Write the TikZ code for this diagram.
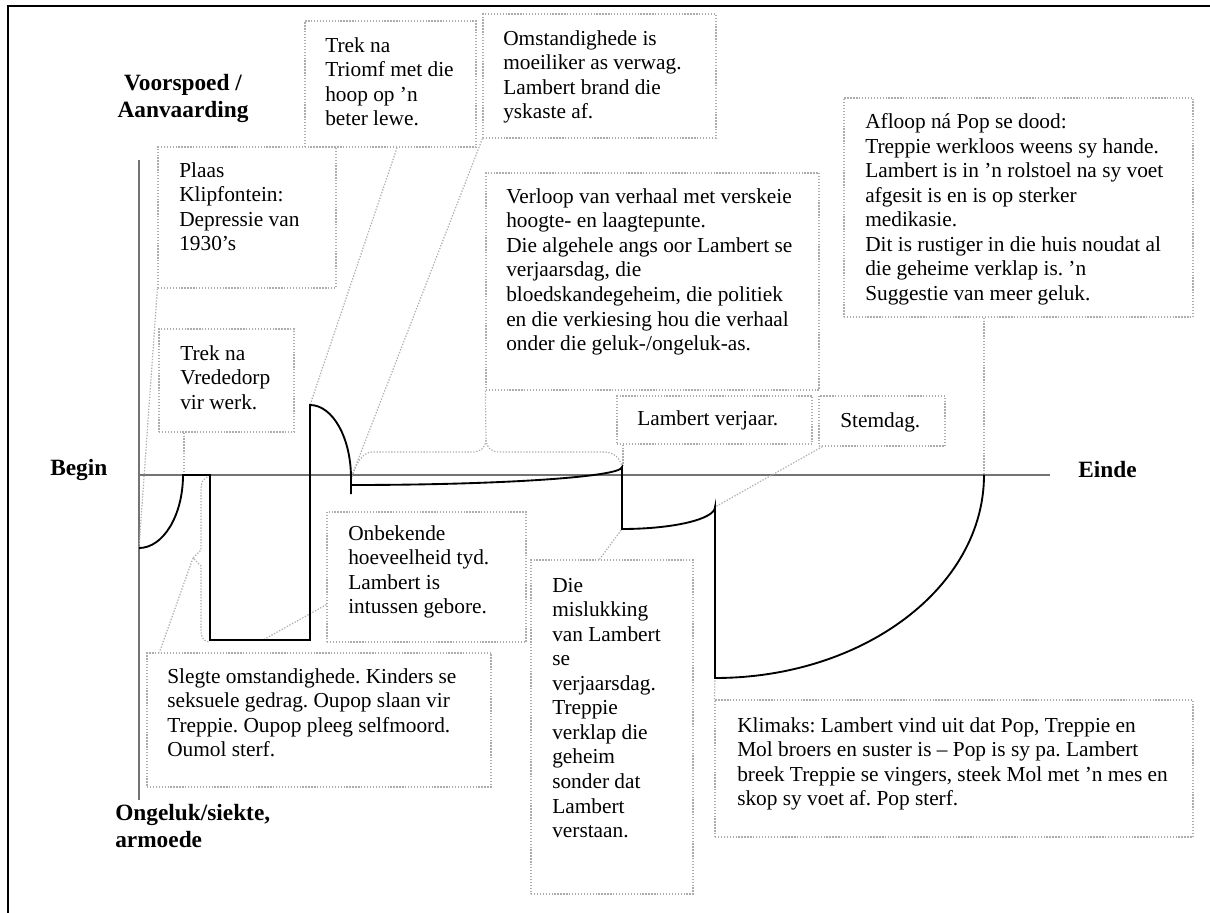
\documentclass[tikz,border=0pt]{standalone}
\usepackage{fontspec}
\setmainfont{Liberation Serif}
\usetikzlibrary{fit,calc}
\newcommand\myst{\rule{0pt}{11pt}}
\newcommand\mybst{\rule{0pt}{12pt}}
\frenchspacing
\begin{document}
\begin{tikzpicture}[x=0.75pt,y=-0.75pt,
  box/.style={draw=black!32, line width=0.9pt, dash pattern=on 1pt off 1.2pt, inner sep=0pt},
  link/.style={draw=black!32, line width=0.9pt, dash pattern=on 1pt off 1.2pt},
  txt/.style={anchor=north west, inner sep=0pt, align=left, font=\fontsize{16}{18.4}\selectfont},
  lbl/.style={inner sep=0pt, font=\fontsize{17.5}{20.5}\selectfont\bfseries},
  plotline/.style={line width=1.4pt, black},
  axisline/.style={line width=1.2pt, black!55}]
\useasboundingbox (0,0) rectangle (1210,913);
% frame (partly visible)
\draw[line width=1.5pt] (1210,6) -- (8,6) -- (8,913);

% axes
\coordinate (axT) at (139,160);
\coordinate (axB) at (139,800);
\coordinate (axO) at (139,475);
\coordinate (axR) at (1050,475);
\draw[axisline] (axT) -- (axB);
\draw[axisline] (axO) -- (axR);

% axis labels
\node[lbl, anchor=north, align=center] (lUp) at (183,74) {\mybst Voorspoed /\\Aanvaarding};
\node[lbl, anchor=north west] (lBegin) at (50,459) {\mybst Begin};
\node[lbl, anchor=north west] (lEnd) at (1078,461) {\mybst Einde};
\node[lbl, anchor=north west, align=left] (lDown) at (115,804) {\mybst Ongeluk/siekte,\\armoede};

% curve points
\coordinate (p0) at (139,548);
\coordinate (p1) at (183,475);
\coordinate (p2) at (210,475);
\coordinate (p3) at (210,640);
\coordinate (p4) at (310,640);
\coordinate (p5) at (310,405);
\coordinate (p6) at (351,478);
\coordinate (p7) at (351,494);
\coordinate (q0) at (351,485);
\coordinate (q1) at (622,467);
\coordinate (q2) at (622,529);
\coordinate (q3) at (715,507);
\coordinate (q4) at (715,678);
\coordinate (q5) at (984,475);

% callout boxes
\node[box, fit={(158,147)(336,288)}] (A) {};
\node[txt] (tA) at (179,162.3) {\myst Plaas\\Klipfontein:\\Depressie van\\1930’s};

\node[box, fit={(305,21)(476,147)}] (B) {};
\node[txt] (tB) at (325,37.3) {\myst Trek na\\Triomf met die\\hoop op ’n\\beter lewe.};

\node[box, fit={(483,14)(716,138)}] (C) {};
\node[txt] (tC) at (503,30.3) {\myst Omstandighede is\\moeiliker as verwag.\\Lambert brand die\\yskaste af.};

\node[box, fit={(486,173)(819,390)}] (D) {};
\node[txt] (tD) at (506,188.3) {\myst Verloop van verhaal met verskeie\\hoogte- en laagtepunte.\\Die algehele angs oor Lambert se\\verjaarsdag, die\\bloedskandegeheim, die politiek\\en die verkiesing hou die verhaal\\onder die geluk-/ongeluk-as.};

\node[box, fit={(844,98)(1193,317)}] (E) {};
\node[txt] (tE) at (865,113.3) {\myst Afloop ná Pop se dood:\\Treppie werkloos weens sy hande.\\Lambert is in ’n rolstoel na sy voet\\afgesit is en is op sterker\\medikasie.\\Dit is rustiger in die huis noudat al\\die geheime verklap is. ’n\\Suggestie van meer geluk.};

\node[box, fit={(159,329)(294,432)}] (F) {};
\node[txt] (tF) at (180,345.3) {\myst Trek na\\Vrededorp\\vir werk.};

\node[box, fit={(617,396)(812,444)}] (G) {};
\node[txt] (tG) at (637,410.3) {\myst Lambert verjaar.};

\node[box, fit={(819,396)(945,446)}] (H) {};
\node[txt] (tH) at (840,412.3) {\myst Stemdag.};

\node[box, fit={(327,512)(526,642)}] (I) {};
\node[txt] (tI) at (348,525.3) {\myst Onbekende\\hoeveelheid tyd.\\Lambert is\\intussen gebore.};

\node[box, fit={(147,653)(491,787)}] (J) {};
\node[txt] (tJ) at (167,668.3) {\myst Slegte omstandighede. Kinders se\\seksuele gedrag. Oupop slaan vir\\Treppie. Oupop pleeg selfmoord.\\Oumol sterf.};

\node[box, fit={(531,560)(693,894)}] (K) {};
\node[txt] (tK) at (552,577.3) {\myst Die\\mislukking\\van Lambert\\se\\verjaarsdag.\\Treppie\\verklap die\\geheim\\sonder dat\\Lambert\\verstaan.};

\node[box, fit={(715,700)(1193,837)}] (L) {};
\node[txt] (tL) at (737,717.3) {\myst Klimaks: Lambert vind uit dat Pop, Treppie en\\Mol broers en suster is – Pop is sy pa. Lambert\\breek Treppie se vingers, steek Mol met ’n mes en\\skop sy voet af. Pop sterf.};

% callout pointers
\coordinate (ft) at (184,475);
\coordinate (gt) at (623,467);
\coordinate (it) at (263,640);
\coordinate (dt) at (486,440);
\coordinate (dl) at (351,483);
\coordinate (jtip) at (193,558);
\coordinate (jtop) at (210,476);
\coordinate (jbot) at (210,642);

\draw[link] (A.south west) -- (p0);
\draw[link] ($(B.south west)!0.538!(B.south east)$) -- (p5);
\draw[link] (C.south west) -- (p6);
\draw[link] (D.south west) -- (dt) .. controls (485,449) and (480,452) .. (472,452) -- (372,452) .. controls (360,452) and (352,472) .. (dl);
\draw[link] (dt) .. controls (487,449) and (492,452) .. (500,452) -- (604,452) .. controls (615,452) and (621,460) .. (q1);
\draw[link] (E.south -| q5) -- (q5);
\draw[link] (F.south -| ft) -- (ft);
\draw[link] (G.south -| gt) -- (gt);
\draw[link] ($(H.south west)+(4,0)$) -- (q3);
\draw[link] ($(I.south west)+(0,-38)$) -- (it);
\draw[link] (jtop) .. controls (203,478) and (201,482) .. (201,490) -- (201,550) -- (jtip) -- (201,566) -- (201,630) .. controls (201,638) and (204,642) .. (jbot);
\draw[link] (jtip) -- ($(J.north west)+(13,0)$);
\draw[link] ($(K.north west)+(69,0)$) -- (q2);
\draw[link] (L.north west) -- (q4);

% story curve
\draw[plotline] (p0) .. controls (163.3,548) and (183,515.3) .. (p1) -- (p2) -- (p3) -- (p4) -- (p5)
  .. controls (332.6,405) and (351,437.7) .. (p6) -- (p7);
\draw[plotline] (q0) .. controls (500.6,485) and (622,476.9) .. (q1) -- (q2)
  .. controls (673.3,529) and (715,519.1) .. (q3) -- (q4)
  .. controls (863.5,678) and (984,587.1) .. (q5);
\end{tikzpicture}
\end{document}
